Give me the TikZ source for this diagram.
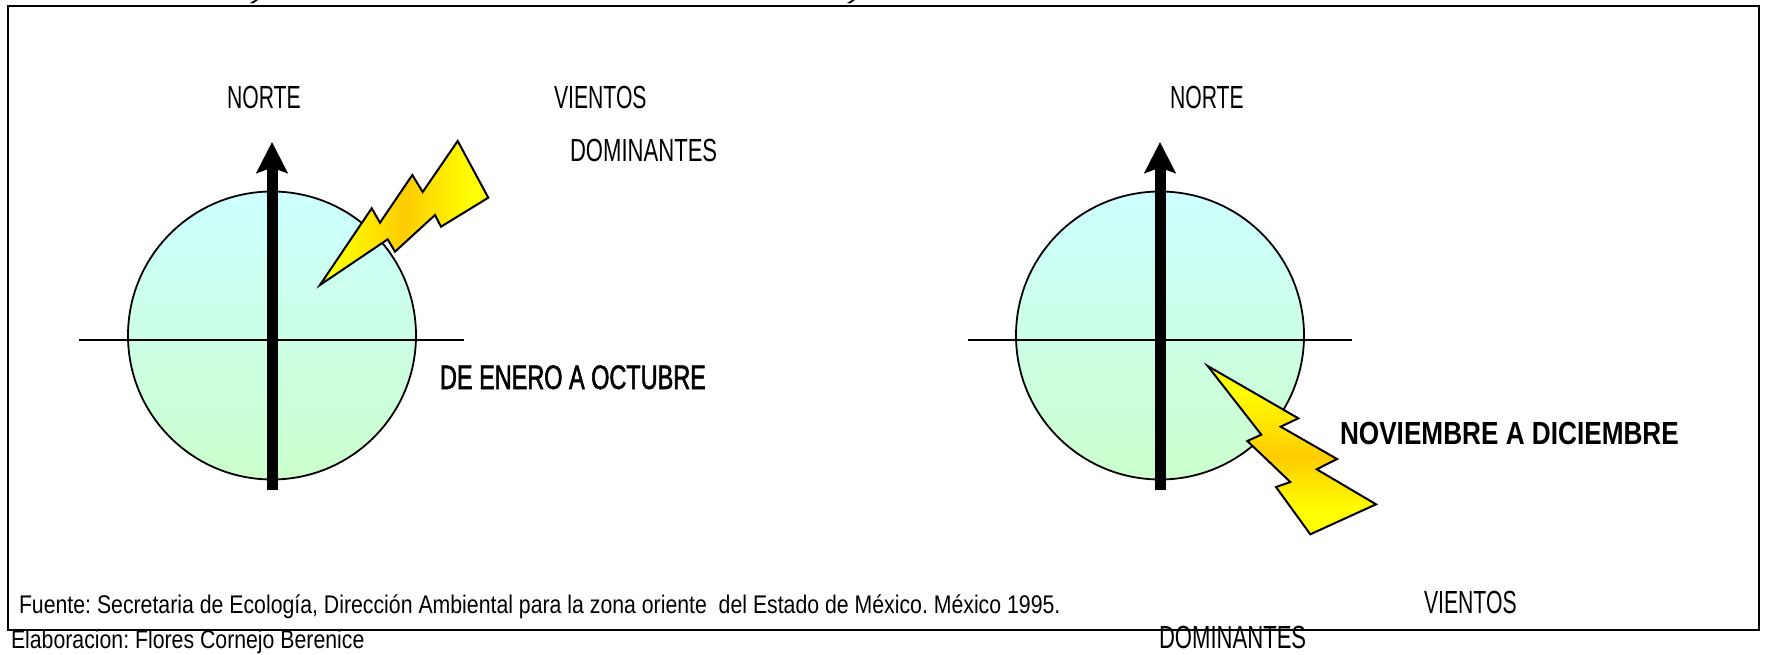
\documentclass[tikz,border=0pt]{standalone}
\usepackage{fontspec}
\usetikzlibrary{arrows.meta}
\setmainfont{Liberation Sans}
\newfontfamily\narrowfont[FakeStretch=0.662]{Liberation Sans}
\newfontfamily\narrowdom[FakeStretch=0.69]{Liberation Sans}
\newfontfamily\narrowsmall[FakeStretch=0.834]{Liberation Sans}
\newfontfamily\narrowbold[FakeStretch=0.818]{Liberation Sans}
\newfontfamily\narrowsemi[FakeStretch=0.69,FakeBold=1.5]{Liberation Sans}
\definecolor{boltyellow}{HTML}{FFFF00}
\definecolor{boltorange}{HTML}{FFCC00}
\definecolor{disctop}{HTML}{CCFFFF}
\definecolor{discbottom}{HTML}{CCFFCC}
\pgfdeclarehorizontalshading{boltshade}{100bp}{
  color(0bp)=(boltyellow); color(30bp)=(boltyellow); color(50bp)=(boltorange);
  color(70bp)=(boltyellow); color(100bp)=(boltyellow)}
\pgfdeclareverticalshading{boltshadev}{100bp}{
  color(0bp)=(boltyellow); color(32bp)=(boltyellow); color(48bp)=(boltorange);
  color(68bp)=(boltyellow); color(100bp)=(boltyellow)}
\tikzset{
  lbl/.style={inner sep=0pt,outer sep=0pt,anchor=base west,font=\narrowfont\fontsize{32}{32}\selectfont,text=black},
  domlbl/.style={lbl,font=\narrowdom\fontsize{32}{32}\selectfont},
  smalllbl/.style={lbl,font=\narrowsmall\fontsize{25.5}{26}\selectfont\frenchspacing},
  semilbl/.style={lbl,font=\narrowsemi\fontsize{34}{34}\selectfont},
  boldlbl/.style={lbl,font=\narrowbold\bfseries\fontsize{32}{32}\selectfont},
  disc/.style={circle,minimum size=288pt,inner sep=0pt,outer sep=0pt,draw=black,line width=1.8pt,top color=disctop,bottom color=discbottom},
  axisline/.style={draw=black,line width=1.8pt},
  north/.style={draw=black,line width=11pt,-{Stealth[length=31pt,width=31pt,inset=5.5pt]}},
  bolt/.style={draw=black,line width=2pt,line join=miter},
  frame/.style={draw=black,line width=2.4pt}
}
\begin{document}
\begin{tikzpicture}[x=1pt,y=-1pt]
\useasboundingbox[fill=white] (0,0) rectangle (1768,655);
% text and marks that the frame's white face covers
\node[smalllbl] (elab) at (11,648) {Elaboracion: Flores Cornejo Berenice};
\fill[black] (250,3) -- (255,0) -- (258,0) -- (253,3.5) -- cycle;
\fill[black] (847,3) -- (852,0) -- (855,0) -- (850,3.5) -- cycle;
\draw[fill=white,frame] (8,6) rectangle (1759,630);
% left rose
\node[disc] (d1) at (272,335.5) {};
\coordinate (h1a) at (79,340); \coordinate (h1b) at (464,340);
\draw[axisline] (h1a) -- (h1b);
\coordinate (n1a) at (272,490); \coordinate (n1b) at (272,142);
\draw[north] (n1a) -- (n1b);
\path[shading=boltshade]
 (320,285) -- (371.7,208.3) -- (380,222.7) -- (412.3,175) -- (422.7,192) -- (457.7,141)
 -- (488.3,197.7) -- (441,226.7) -- (435,215) -- (395,251.7) -- (387.7,239.3) -- cycle;
\draw[bolt] (320,285) -- (371.7,208.3) -- (380,222.7) -- (412.3,175) -- (422.7,192) -- (457.7,141)
 -- (488.3,197.7) -- (441,226.7) -- (435,215) -- (395,251.7) -- (387.7,239.3) -- cycle;
% right rose
\node[disc] (d2) at (1160,335.5) {};
\coordinate (h2a) at (968,340); \coordinate (h2b) at (1352,340);
\draw[axisline] (h2a) -- (h2b);
\coordinate (n2a) at (1160,490); \coordinate (n2b) at (1160,142);
\draw[north] (n2a) -- (n2b);
\path[shading=boltshadev]
 (1207.7,366) -- (1298.3,418.3) -- (1280.7,426.7) -- (1337,459) -- (1316.7,469.3) -- (1376,504.3)
 -- (1310.3,534.3) -- (1276,487) -- (1290.3,482) -- (1247.3,441) -- (1261.3,434.7) -- cycle;
\draw[bolt] (1207.7,366) -- (1298.3,418.3) -- (1280.7,426.7) -- (1337,459) -- (1316.7,469.3) -- (1376,504.3)
 -- (1310.3,534.3) -- (1276,487) -- (1290.3,482) -- (1247.3,441) -- (1261.3,434.7) -- cycle;
% texts
\node[lbl] (norte1) at (227,108.5) {NORTE};
\node[lbl] (norte2) at (1170,108.5) {NORTE};
\node[lbl] (vien1) at (554,108.5) {VIENTOS};
\node[domlbl] (dom1) at (570,161.5) {DOMINANTES};
\node[semilbl] (enero) at (440,389) {DE ENERO A OCTUBRE};
\node[boldlbl] (nov) at (1340,444.5) {NOVIEMBRE A DICIEMBRE};
\node[smalllbl] (fuente) at (19,613) {Fuente: Secretaria de Ecología, Dirección Ambiental para la zona oriente\ \ del Estado de México. México 1995.};
\node[lbl] (vien2) at (1424,613) {VIENTOS};
\node[domlbl] (dom2) at (1159,648.5) {DOMINANTES};
\end{tikzpicture}
\end{document}
